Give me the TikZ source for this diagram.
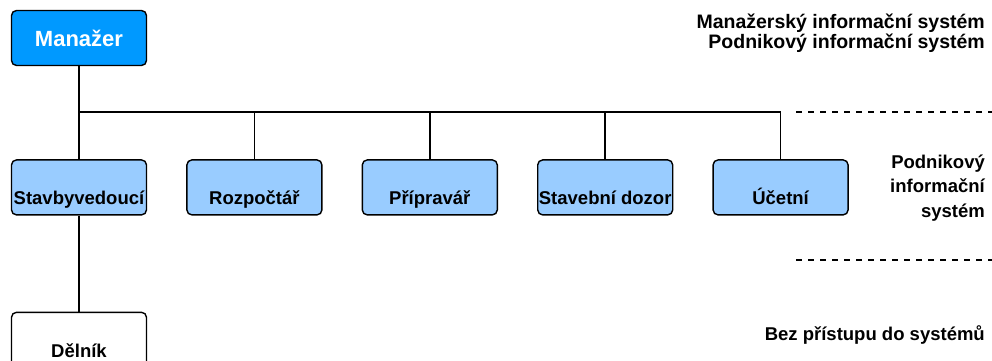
\documentclass[tikz,border=0pt]{standalone}
\usepackage{fontspec}
\setmainfont{Liberation Sans}
\usetikzlibrary{positioning}

\definecolor{mgrblue}{HTML}{0099FF}
\definecolor{staffblue}{HTML}{99CCFF}

\begin{document}
\begin{tikzpicture}[x=1pt, y=-1pt,
    role/.style={draw, line width=1.4pt, rounded corners=5pt,
      minimum width=135pt, minimum height=55pt, inner sep=0pt,
      font=\fontsize{18.5}{20}\selectfont\bfseries,
      text height=38pt, text depth=3pt},
    link/.style={line width=1.5pt},
    level/.style={line width=1.3pt, dash pattern=on 6pt off 6pt},
    legend/.style={anchor=base east, align=right, inner sep=0pt,
      font=\fontsize{18.5}{20}\selectfont\bfseries}]
    \def\busy{112}; % horizontal bus y coordinate
    \def\legx{985}; % legend right edge x coordinate
    \def\dashx{796}; % dashed separator start x coordinate

    \useasboundingbox (0,0) rectangle (992,360);
    \clip (0,0) rectangle (992,360);

    % manager %%%%%%%%%%%%%%%%%%%%%%%%%%%%%%%%%%%%%%%%%%%%%%%%%%%%%%%%%%%%%%
    \node[role, fill=mgrblue, text=white, text height=16pt, text depth=0pt,
      font=\fontsize{22}{24}\selectfont\bfseries] (mgr) at (79,38) {Manažer};

    % staff row %%%%%%%%%%%%%%%%%%%%%%%%%%%%%%%%%%%%%%%%%%%%%%%%%%%%%%%%%%%%
    \node[role, fill=staffblue, below=93pt of mgr] (stavbyvedouci) {Stavbyvedoucí};
    \node[role, fill=staffblue, right=39pt of stavbyvedouci] (rozpoctar) {Rozpočtář};
    \node[role, fill=staffblue, right=39pt of rozpoctar] (pripravar) {Přípravář};
    \node[role, fill=staffblue, right=39pt of pripravar] (dozor) {Stavební dozor};
    \node[role, fill=staffblue, right=39pt of dozor] (ucetni) {Účetní};

    % worker %%%%%%%%%%%%%%%%%%%%%%%%%%%%%%%%%%%%%%%%%%%%%%%%%%%%%%%%%%%%%%%
    \node[role, fill=white, below=96pt of stavbyvedouci] (delnik) {Dělník};

    % connectors %%%%%%%%%%%%%%%%%%%%%%%%%%%%%%%%%%%%%%%%%%%%%%%%%%%%%%%%%%%
    \coordinate (bus) at (79,\busy);
    \draw[link] (mgr.south) -- (stavbyvedouci.north);
    \foreach \n in {rozpoctar, pripravar, dozor, ucetni}{
      \draw[link] (\n.north) |- (bus);
    }
    \draw[link] (stavbyvedouci.south) -- (delnik.north);

    % levels (legend nodes sit on their last line) %%%%%%%%%%%%%%%%%%%%%%%%%%
    \node[legend, font=\fontsize{19.5}{20}\selectfont\bfseries] (mis) at (\legx,48) {Manažerský informační systém\\Podnikový informační systém};
    \coordinate (sep1a) at (\dashx,\busy);
    \coordinate (sep1b) at (992,\busy);
    \draw[level] (sep1a) -- (sep1b);
    \node[legend, font=\fontsize{18.5}{24.5}\selectfont\bfseries] (pis) at (\legx,217) {Podnikový\\informační\\systém};
    \coordinate (sep2a) at (\dashx,260);
    \coordinate (sep2b) at (992,260);
    \draw[level] (sep2a) -- (sep2b);
    \node[legend] (none) at (\legx,340) {Bez přístupu do systémů};
\end{tikzpicture}
\end{document}
